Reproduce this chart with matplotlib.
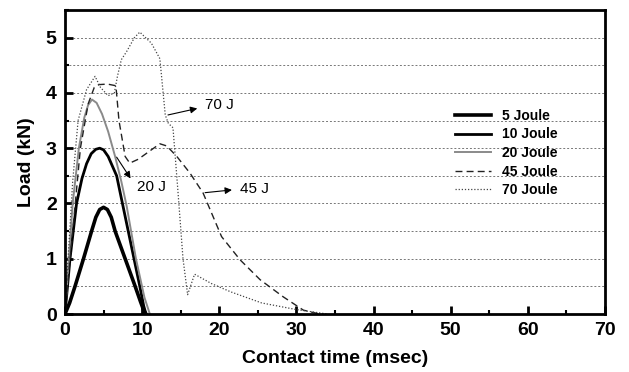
import matplotlib
matplotlib.use("Agg")
import matplotlib.pyplot as plt
from matplotlib.ticker import MultipleLocator

plt.rcParams['font.family'] = ['Liberation Sans', 'DejaVu Sans']

# Load curves: time (msec), load (kN)
t_5 = [0, 0.6, 1.3, 2.4, 3.45, 4.0, 4.5, 5.0, 5.5, 6.0, 6.5, 7.8, 9.1, 9.8, 10.2, 10.5]
load_5 = [0, 0.2, 0.5, 1.0, 1.5, 1.75, 1.89, 1.93, 1.89, 1.75, 1.5, 1.0, 0.5, 0.22, 0.07, 0]

t_10 = [0, 0.65, 1.5, 2.2, 2.8, 3.4, 4.0, 4.5, 5.0, 5.6, 6.7, 8.2, 9.7, 10.2, 10.5]
load_10 = [0, 1.0, 2.0, 2.45, 2.72, 2.9, 2.98, 3.0, 2.97, 2.85, 2.5, 1.5, 0.5, 0.15, 0]

t_20 = [0, 0.5, 1.0, 1.8, 2.5, 3.0, 3.5, 4.1, 4.8, 5.6, 6.5, 7.3, 8.0, 9.2, 10.3, 11.0]
load_20 = [0, 1.0, 2.0, 3.0, 3.55, 3.78, 3.88, 3.82, 3.62, 3.3, 2.85, 2.4, 1.95, 1.0, 0.3, 0]

t_45 = [0, 1.0, 2.0, 3.0, 3.8, 4.4, 5.5, 6.6, 7.0, 7.8, 8.4, 9.5, 11.0, 12.3,
        13.2, 14.5, 16.2, 17.9, 20.3, 22.7, 25.3, 28.3, 30.9, 33.0]
load_45 = [0, 1.5, 3.0, 3.8, 4.1, 4.15, 4.16, 4.13, 3.5, 2.85, 2.73, 2.8, 2.95, 3.08,
           3.04, 2.85, 2.55, 2.19, 1.4, 0.98, 0.62, 0.31, 0.07, 0]

t_70 = [0, 0.4, 1.0, 1.7, 2.8, 3.9, 4.6, 5.6, 6.4, 6.8, 7.3, 8.0, 9.0, 9.7, 11.2,
        12.3, 13.0, 13.4, 14.0, 14.6, 15.3, 15.9, 16.8, 19.0, 21.5, 25.5, 30.0, 34.0]
load_70 = [0, 1.0, 2.4, 3.5, 4.06, 4.3, 4.1, 3.95, 4.0, 4.3, 4.6, 4.75, 5.0, 5.1, 4.9,
           4.62, 3.6, 3.45, 3.37, 2.3, 1.0, 0.35, 0.72, 0.55, 0.4, 0.2, 0.08, 0]

labels = ['5 Joule', '10 Joule', '20 Joule', '45 Joule', '70 Joule']

fig = plt.figure(figsize=(6.29, 3.72), dpi=100)
ax = fig.add_axes([0.1033, 0.1559, 0.8585, 0.8172])

ax.plot(t_5, load_5, color='black', lw=2.6, label=labels[0])
ax.plot(t_10, load_10, color='black', lw=2.0, label=labels[1])
ax.plot(t_20, load_20, color='#8a8a8a', lw=1.4, label=labels[2])
ax.plot(t_45, load_45, color='#222222', lw=1.0, linestyle=(0, (5, 3)), label=labels[3])
ax.plot(t_70, load_70, color='#444444', lw=0.9, linestyle=(0, (1, 1.5)), label=labels[4])

ax.set_xlim(0, 70)
ax.set_ylim(0, 5.5)
ax.xaxis.set_major_locator(MultipleLocator(10))
ax.xaxis.set_minor_locator(MultipleLocator(5))
ax.yaxis.set_major_locator(MultipleLocator(1))
ax.yaxis.set_minor_locator(MultipleLocator(0.5))
ax.tick_params(which='major', direction='in', length=6, width=2, labelsize=14, pad=6)
ax.tick_params(which='minor', direction='in', length=3, width=1.5)
ax.tick_params(top=False, right=False)
for lab in ax.get_xticklabels() + ax.get_yticklabels():
    lab.set_fontweight('bold')
for sp in ax.spines.values():
    sp.set_linewidth(2)

# dotted horizontal grid every 0.5 kN
ax.grid(True, axis='y', which='both', color='#777777', linestyle=(0, (2, 2)), lw=0.7)
ax.set_axisbelow(True)

ax.set_xlabel('Contact time (msec)', fontsize=14, fontweight='bold', labelpad=8)
ax.set_ylabel('Load (kN)', fontsize=14, fontweight='bold', labelpad=8)

leg = ax.legend(loc='upper left', bbox_to_anchor=(0.722, 0.675), frameon=False,
                prop={'weight': 'bold', 'size': 10}, handlelength=2.6,
                labelspacing=0.33, handletextpad=0.8, borderpad=0.0,
                borderaxespad=0.0)

# callouts
arrow = dict(arrowstyle='-|>', color='black', lw=0.8, mutation_scale=10)
ax.annotate('', xy=(17.5, 3.73), xytext=(13.0, 3.59), arrowprops=arrow)
ax.text(18.2, 3.79, '70 J', fontsize=11, va='center', ha='left')
ax.annotate('', xy=(8.7, 2.41), xytext=(6.5, 2.88), arrowprops=arrow)
ax.text(9.3, 2.3, '20 J', fontsize=11, va='center', ha='left')
ax.annotate('', xy=(22.0, 2.25), xytext=(17.8, 2.19), arrowprops=arrow)
ax.text(22.7, 2.27, '45 J', fontsize=11, va='center', ha='left')

fig.savefig('out.png', dpi=100)
plt.close(fig)
